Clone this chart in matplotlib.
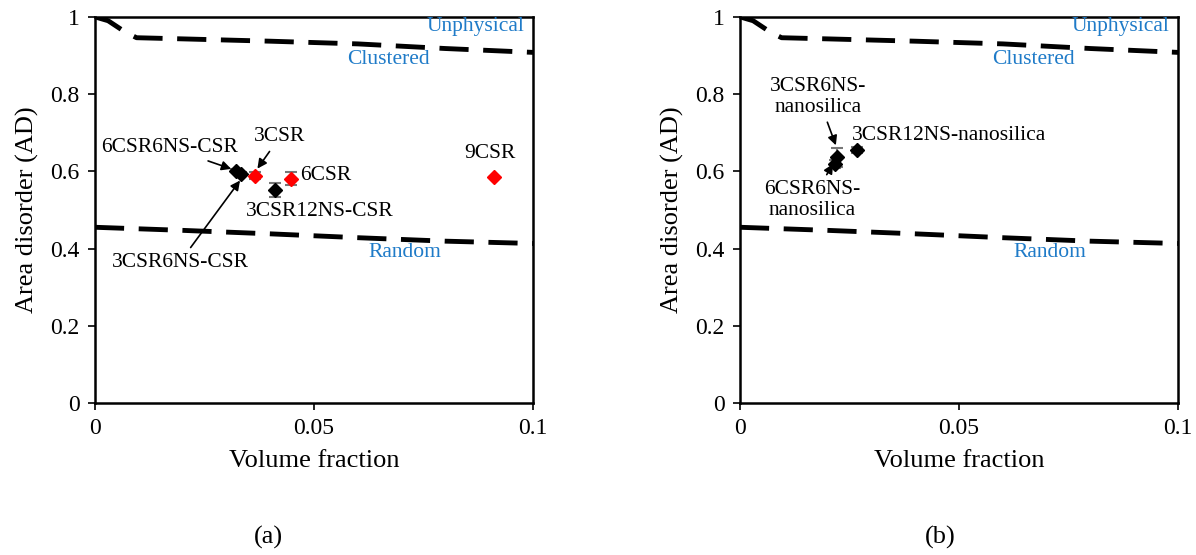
import matplotlib.pyplot as plt

plt.rcParams['font.family'] = ['Liberation Serif', 'DejaVu Serif']

# boundary curves (volume fraction vs area disorder)
clus_x = [0.0, 0.003, 0.007, 0.0095, 0.02, 0.04, 0.06, 0.08, 0.1]
clus_y = [1.0, 0.99, 0.96, 0.946, 0.943, 0.937, 0.930, 0.918, 0.908]
rand_x = [0.0, 0.02, 0.04, 0.06, 0.08, 0.1]
rand_y = [0.455, 0.447, 0.438, 0.428, 0.419, 0.413]

# panel (a)
a_names = ['6CSR6NS-CSR', '3CSR6NS-CSR', '3CSR12NS-CSR', '3CSR', '6CSR', '9CSR']
a_vf = [0.0322, 0.0333, 0.0410, 0.0366, 0.0448, 0.0910]
a_ad = [0.601, 0.594, 0.551, 0.589, 0.581, 0.586]
a_err = [0.004, 0.004, 0.018, 0.010, 0.016, 0.0]
a_col = ['black', 'black', 'black', 'red', 'red', 'red']

# panel (b)
b_names = ['3CSR6NS-\nnanosilica', '6CSR6NS-\nnanosilica', '3CSR12NS-nanosilica']
b_vf = [0.0222, 0.0218, 0.0267]
b_ad = [0.636, 0.618, 0.656]
b_err = [0.025, 0.010, 0.008]

BLUE = '#1F7BC8'

fig = plt.figure(figsize=(11.96, 5.55), dpi=100)
ax1 = fig.add_axes([0.0794, 0.274, 0.3663, 0.6956])
ax2 = fig.add_axes([0.6187, 0.274, 0.3663, 0.6956])


def setup(ax):
    ax.plot(clus_x, clus_y, color='black', lw=3.5, ls=(0, (6, 3)))
    ax.plot(rand_x, rand_y, color='black', lw=3.5, ls=(0, (6, 3)))
    ax.set_xlim(0, 0.1)
    ax.set_ylim(0, 1)
    ax.set_xticks([0, 0.05, 0.1])
    ax.set_xticklabels(['0', '0.05', '0.1'])
    ax.set_yticks([0, 0.2, 0.4, 0.6, 0.8, 1])
    ax.set_yticklabels(['0', '0.2', '0.4', '0.6', '0.8', '1'])
    ax.tick_params(direction='out', length=5, width=1.2, labelsize=17, pad=6)
    for s in ax.spines.values():
        s.set_linewidth(1.8)
    ax.set_xlabel('Volume fraction', fontsize=19, labelpad=8)
    ax.set_ylabel('Area disorder (AD)', fontsize=19, labelpad=8)
    ax.text(0.098, 0.974, 'Unphysical', color=BLUE, fontsize=15.5, ha='right', va='center')
    ax.text(0.0669, 0.889, 'Clustered', color=BLUE, fontsize=15.5, ha='center', va='center')
    ax.text(0.0708, 0.389, 'Random', color=BLUE, fontsize=15.5, ha='center', va='center')


setup(ax1)
setup(ax2)

for x, y, e, c in zip(a_vf, a_ad, a_err, a_col):
    ax1.errorbar(x, y, yerr=e, fmt='D', color=c, ms=7, ecolor='#777777',
                 elinewidth=1.5, capsize=4, capthick=1.5, zorder=3)

arw = dict(arrowstyle='-|>', color='black', lw=1.2, mutation_scale=14, shrinkA=2, shrinkB=1)
fs = 15.5
ax1.annotate(a_names[0], xy=(a_vf[0] - 0.0008, a_ad[0] + 0.004), xytext=(0.0171, 0.661),
             fontsize=fs, ha='center', va='center', arrowprops=arw)
ax1.annotate(a_names[1], xy=(a_vf[1], a_ad[1] - 0.015), xytext=(0.0194, 0.365),
             fontsize=fs, ha='center', va='center', arrowprops=arw)
ax1.annotate(a_names[3], xy=(a_vf[3] + 0.0003, a_ad[3] + 0.015), xytext=(0.0422, 0.689),
             fontsize=fs, ha='center', va='center', arrowprops=arw)
ax1.text(0.0514, 0.497, a_names[2], fontsize=fs, ha='center', va='center')
ax1.text(0.0468, 0.588, a_names[4], fontsize=fs, ha='left', va='center')
ax1.text(0.0902, 0.645, a_names[5], fontsize=fs, ha='center', va='center')

for x, y, e in zip(b_vf, b_ad, b_err):
    ax2.errorbar(x, y, yerr=e, fmt='D', color='black', ms=7, ecolor='#777777',
                 elinewidth=1.5, capsize=4, capthick=1.5, zorder=3)

ax2.annotate(b_names[0], xy=(b_vf[0] - 0.0002, b_ad[0] + 0.028), xytext=(0.0178, 0.793),
             fontsize=fs, ha='center', va='center', arrowprops=arw, linespacing=1.15)
ax2.annotate(b_names[1], xy=(b_vf[1] - 0.0004, b_ad[1] + 0.004), xytext=(0.0164, 0.526),
             fontsize=fs, ha='center', va='center', arrowprops=arw, linespacing=1.15)
ax2.text(0.0256, 0.694, b_names[2], fontsize=fs, ha='left', va='center')

fig.text(0.2245, 0.032, '(a)', fontsize=19, ha='center', va='center')
fig.text(0.786, 0.032, '(b)', fontsize=19, ha='center', va='center')

fig.savefig('out.png', dpi=100)
